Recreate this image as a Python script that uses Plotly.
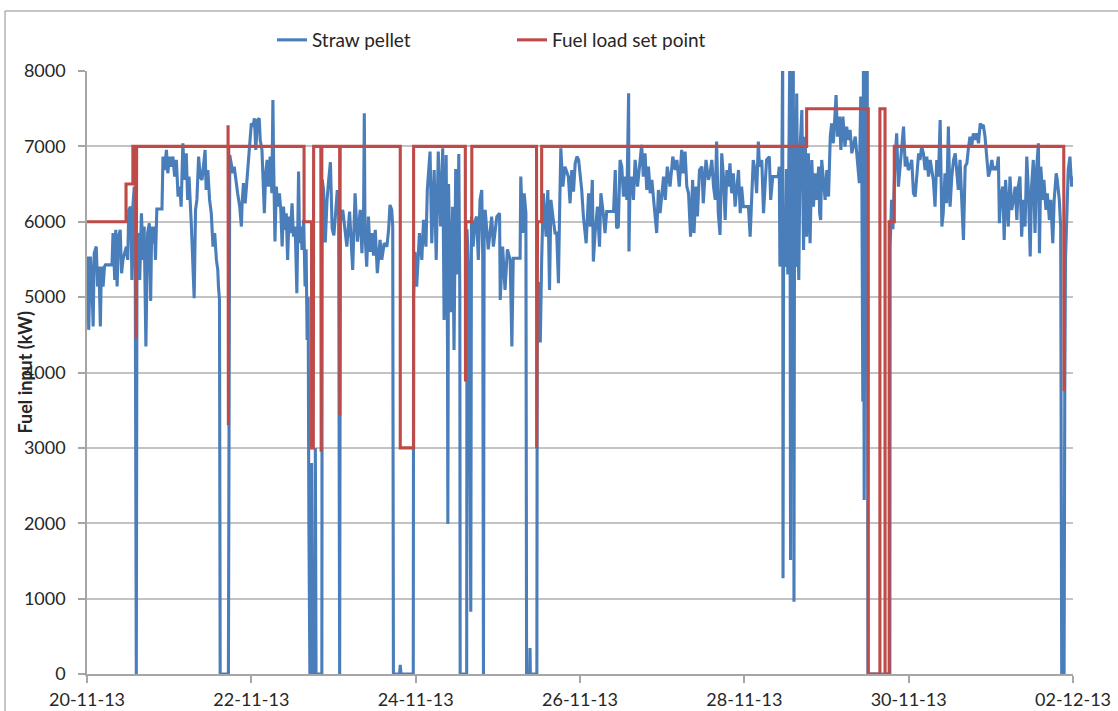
import pandas as pd
import plotly.graph_objects as go

# ---- data (hours after 20-11-13 00:00, values in kW) ----
straw_hours = [
    0.0, 0.2, 0.5, 1.0, 1.5, 1.8, 2.1, 2.7, 3.1, 3.5, 3.9, 4.2, 4.7, 5.1, 5.4, 7.3, 7.6, 8.1, 8.4, 8.8,
    9.2, 9.7, 10.1, 10.5, 11.0, 11.5, 11.9, 12.2, 12.7, 12.9, 13.1, 13.4, 13.8, 14.1, 14.4, 14.6, 15.1, 15.4, 15.9, 16.4,
    16.7, 17.2, 17.7, 18.2, 18.6, 18.9, 19.2, 19.7, 20.0, 20.4, 21.9, 22.2, 22.6, 23.2, 23.6, 24.1, 24.5, 25.1, 25.6, 26.1,
    26.6, 27.1, 27.5, 28.0, 28.5, 29.0, 29.4, 29.8, 30.5, 30.9, 31.3, 31.7, 32.1, 32.6, 33.1, 33.6, 34.1, 34.5, 34.8, 35.3,
    35.8, 36.3, 36.8, 37.3, 37.8, 38.2, 38.4, 38.7, 38.9, 41.3, 41.7, 42.0, 42.6, 43.0, 43.6, 44.0, 44.6, 45.1, 45.3, 45.7,
    46.2, 46.7, 47.2, 47.7, 48.0, 48.5, 48.9, 49.3, 49.8, 50.3, 50.6, 51.1, 51.4, 51.8, 52.2, 52.6, 53.0, 53.5, 54.0, 54.3,
    54.5, 54.9, 55.3, 55.7, 56.2, 56.6, 57.0, 57.4, 57.8, 58.2, 58.6, 59.0, 59.4, 59.9, 60.3, 60.8, 61.3, 61.8, 62.1, 62.5,
    62.8, 63.3, 63.7, 64.0, 64.3, 64.6, 64.8, 65.1, 65.6, 65.8, 66.5, 66.7, 66.9, 68.6, 68.7, 69.1, 69.6, 70.1, 70.6, 71.1,
    71.6, 72.1, 72.6, 73.1, 73.5, 73.8, 74.0, 74.7, 75.9, 76.7, 77.6, 78.3, 79.0, 79.8, 80.3, 80.8, 81.0, 81.2, 81.7, 82.2,
    82.7, 83.2, 83.7, 84.2, 84.8, 85.6, 86.1, 86.8, 87.6, 88.1, 88.5, 89.0, 89.3, 89.5, 91.3, 91.5, 91.7, 95.3, 95.4, 95.8,
    96.3, 97.1, 97.8, 98.3, 99.0, 99.4, 100.2, 100.7, 101.4, 102.0, 102.6, 103.3, 103.9, 104.3, 104.9, 105.3, 105.4, 105.6, 106.3, 106.8,
    107.2, 107.7, 108.2, 108.6, 108.9, 109.0, 110.9, 111.0, 111.5, 112.1, 112.3, 112.8, 113.3, 113.8, 114.3, 114.8, 115.3, 115.6, 115.8, 116.0,
    116.3, 117.2, 118.2, 118.7, 119.7, 120.5, 120.7, 121.4, 122.1, 122.8, 123.6, 124.1, 124.5, 126.5, 126.7, 127.3, 127.7, 128.2, 128.4, 129.3,
    129.4, 129.5, 131.4, 131.5, 132.0, 132.4, 132.8, 133.3, 134.1, 134.6, 135.1, 135.5, 136.2, 136.7, 137.2, 137.7, 138.0, 138.4, 139.0, 139.6,
    140.6, 141.1, 141.6, 142.1, 142.6, 143.1, 143.6, 144.0, 144.5, 145.0, 145.8, 146.5, 147.0, 147.6, 147.9, 148.4, 149.1, 149.7, 150.1, 150.9,
    151.3, 151.8, 153.8, 154.3, 154.7, 155.2, 155.7, 156.2, 156.7, 157.2, 157.7, 158.2, 158.3, 158.6, 159.1, 159.6, 160.1, 160.8, 161.6, 162.0,
    162.5, 163.0, 163.5, 164.0, 164.5, 165.0, 165.6, 166.4, 166.9, 167.4, 168.4, 168.9, 169.5, 170.3, 171.1, 171.8, 172.3, 173.0, 173.7, 174.2,
    174.7, 175.2, 175.7, 176.3, 176.9, 177.3, 177.9, 178.3, 178.9, 179.6, 180.0, 180.8, 181.5, 182.0, 182.5, 183.0, 183.5, 183.9, 184.4, 184.9,
    185.4, 185.9, 186.4, 186.9, 187.3, 187.8, 188.3, 188.8, 189.3, 189.8, 190.3, 190.8, 191.2, 191.7, 193.2, 193.7, 194.2, 194.6, 195.1, 195.6,
    196.1, 196.4, 197.1, 197.6, 198.1, 198.5, 199.3, 199.7, 200.3, 201.9, 202.2, 202.4, 202.9, 203.2, 203.3, 203.5, 203.9, 204.3, 204.7, 205.0,
    205.3, 205.5, 205.7, 206.0, 206.3, 206.5, 206.7, 207.0, 207.3, 207.6, 207.9, 208.3, 208.8, 209.3, 209.8, 210.2, 210.7, 211.2, 211.7, 212.2,
    212.7, 213.2, 213.7, 214.0, 214.3, 214.6, 215.1, 215.6, 216.1, 216.6, 217.1, 217.5, 218.0, 218.5, 218.8, 219.2, 219.8, 220.2, 220.8, 221.4,
    221.9, 222.4, 222.9, 223.4, 223.9, 224.4, 225.0, 225.6, 226.0, 226.3, 226.6, 226.8, 227.0, 227.3, 227.6, 227.9, 228.1, 234.5, 234.6, 235.0,
    235.4, 236.0, 236.5, 237.0, 237.5, 238.0, 238.5, 239.0, 239.4, 239.9, 240.4, 240.9, 241.4, 241.9, 242.4, 242.9, 243.3, 243.8, 244.3, 244.8,
    245.3, 245.8, 246.3, 246.7, 247.2, 247.7, 248.2, 248.7, 249.2, 249.7, 250.1, 250.6, 251.1, 251.6, 252.1, 252.6, 253.1, 253.6, 254.0, 254.5,
    255.0, 255.5, 256.0, 256.5, 257.0, 257.4, 257.9, 258.4, 258.9, 259.4, 259.9, 260.4, 260.9, 261.3, 261.8, 262.3, 262.8, 263.3, 263.8, 264.3,
    264.7, 265.2, 265.7, 266.2, 266.5, 266.9, 267.5, 267.9, 268.3, 268.6, 269.1, 269.6, 270.1, 270.6, 271.1, 271.6, 272.0, 272.5, 273.0, 273.5,
    274.0, 274.5, 275.0, 275.5, 275.9, 276.4, 276.9, 277.4, 277.9, 278.2, 278.6, 279.2, 279.5, 280.1, 280.5, 281.1, 281.5, 282.1, 282.5, 283.1,
    283.4, 284.0, 284.4, 284.7, 285.4, 285.6, 285.8, 286.1, 286.6, 287.1, 287.6, 288.0,
]
straw_kw = [
    5450, 5538, 4566, 5538, 5096, 4610, 5582, 5671, 5140, 5405, 4610, 5405, 5140, 5405, 5428, 5428, 5850, 5229, 5892, 5140,
    5803, 5892, 5317, 5494, 5582, 5671, 5494, 6157, 6201, 5936, 5229, 6201, 6466, 5300, 0, 5700, 5850, 5229, 6113, 5494,
    5936, 4345, 5850, 5980, 4950, 5936, 5715, 5936, 5494, 6170, 6170, 6864, 6687, 6953, 6643, 6864, 6731, 6864, 6599, 6820,
    6334, 6466, 6201, 7041, 6555, 6908, 6290, 6599, 5936, 5494, 4986, 6157, 6290, 6864, 6599, 6555, 6820, 6953, 6422, 6687,
    6290, 6113, 5671, 5850, 5494, 5361, 5140, 4963, 0, 0, 6886, 6820, 6643, 6731, 6466, 6378, 6201, 5936, 6245, 6511,
    6245, 6555, 6776, 7041, 7306, 7262, 7372, 6953, 7350, 7372, 7085, 6953, 6643, 6113, 6643, 6820, 6466, 6864, 6378, 7615,
    6820, 5737, 6466, 6201, 6378, 6157, 5671, 6201, 5892, 6113, 5494, 6069, 5850, 6245, 5803, 5936, 5052, 6665, 5715, 5936,
    5627, 6024, 5140, 5634, 4430, 5000, 2070, 0, 2800, 0, 0, 3000, 0, 0, 6560, 6420, 5727, 6282, 6560, 6790,
    5912, 5820, 6100, 6420, 6100, 0, 6000, 6157, 5670, 6135, 5360, 6378, 5737, 6157, 5582, 6200, 7439, 5850, 5405, 6069,
    5600, 5850, 5550, 5892, 5317, 5760, 5494, 5715, 5670, 5900, 6223, 6157, 5936, 0, 0, 120, 0, 0, 5000, 5600,
    5140, 5850, 5494, 6024, 5670, 6422, 6930, 5715, 6687, 5494, 6930, 5936, 6975, 4698, 6886, 4344, 1990, 6500, 4800, 6200,
    4300, 6700, 5300, 6900, 5000, 0, 0, 5900, 5300, 827, 6069, 5670, 6000, 6069, 5494, 6290, 6422, 5494, 0, 5800,
    6157, 5633, 6069, 5670, 6069, 6113, 4963, 5670, 5096, 5633, 5494, 4345, 5516, 5516, 6599, 5850, 6378, 6113, 0, 0,
    345, 0, 0, 4345, 5200, 4400, 5494, 6378, 5803, 6422, 5096, 6290, 6024, 5850, 5850, 5184, 6024, 6975, 6466, 6731,
    6599, 6245, 6687, 6400, 6776, 6865, 6820, 6643, 6422, 6069, 5715, 6378, 5936, 6555, 5472, 5850, 6201, 5670, 6378, 6069,
    5850, 6135, 6135, 6687, 5914, 5936, 6820, 6731, 6334, 6599, 6290, 7704, 5604, 6466, 6599, 6290, 6820, 6466, 6908, 7019,
    6599, 6908, 6422, 6731, 6378, 6555, 6245, 5850, 6422, 6113, 6599, 6290, 6731, 6466, 6864, 6687, 6820, 6466, 6953, 6643,
    6930, 6466, 6378, 5803, 6555, 5850, 6466, 6069, 6687, 6731, 6245, 6820, 6555, 6643, 6820, 6466, 6290, 7063, 6113, 5825,
    6908, 6599, 6024, 6687, 6466, 6776, 6378, 6643, 6201, 6466, 6687, 6113, 6466, 6201, 6201, 5803, 6378, 6820, 6687, 6378,
    7063, 6731, 6820, 6113, 6511, 6820, 6864, 6290, 6599, 6599, 6731, 5405, 6290, 8300, 1270, 6200, 5400, 6700, 5300, 6900,
    8300, 1513, 8300, 4000, 8300, 960, 7500, 5400, 7700, 6100, 5229, 7000, 7483, 5627, 7129, 5803, 6908, 5715, 6820, 6201,
    6643, 6290, 6731, 6113, 6024, 6820, 6599, 6290, 6687, 6334, 7129, 7306, 7041, 7439, 7682, 7129, 7394, 6953, 7394, 6997,
    7262, 7085, 7218, 6908, 7041, 7129, 6820, 6511, 7660, 7000, 3614, 8300, 2310, 8300, 7200, 8300, 0, 0, 5670, 6290,
    5900, 6820, 7173, 6466, 6731, 7041, 7262, 6731, 6864, 6687, 6731, 6820, 6378, 6334, 6599, 6908, 6820, 6997, 6908, 6687,
    6864, 6599, 6820, 6687, 6555, 6201, 6820, 6599, 7350, 5936, 6113, 6643, 6245, 7262, 6201, 6599, 6820, 6908, 6687, 6422,
    6820, 6245, 5759, 6731, 6776, 6953, 7129, 6997, 7173, 7085, 7173, 7041, 7306, 7262, 7284, 7129, 6820, 6599, 6687, 6820,
    6687, 6731, 6687, 6864, 5980, 6334, 6466, 5759, 6555, 6290, 5936, 6599, 6157, 6290, 6466, 6024, 6466, 6599, 5803, 6290,
    5936, 6864, 6378, 5538, 6466, 6820, 5850, 6731, 7041, 5582, 6731, 6290, 6555, 6157, 6378, 6024, 6290, 5715, 6290, 6643,
    6555, 6290, 5936, 0, 0, 3750, 5500, 5936, 6687, 6864, 6466, 6599,
]

setpoint_hours = [
    0.0, 11.4, 11.4, 13.4, 13.4, 14.2, 14.35, 14.5, 41.2, 41.2, 41.3, 41.4, 63.4, 63.4, 65.6, 65.6, 66.1, 66.2,
    68.3, 68.4, 68.6, 73.8, 73.85, 73.95, 91.5, 91.5, 95.4, 95.4, 110.5, 110.55, 110.7, 112.4, 112.4,
    131.3, 131.35, 131.6, 132.8, 132.8, 210.2, 210.2, 228.2, 228.2, 231.6, 231.6, 233.1, 233.1, 234.3, 234.3,
    235.8, 235.8, 285.3, 285.4,
]
setpoint_kw = [
    6000, 6000, 6500, 6500, 7000, 7000, 4450, 7000, 7000, 7280, 3300, 7000, 7000, 6000, 6000, 3000, 3000, 7000,
    7000, 2950, 7000, 7000, 3430, 7000, 7000, 3000, 3000, 7000, 7000, 3880, 6000, 6000, 7000,
    7000, 3000, 6000, 6000, 7000, 7000, 7500, 7500, 0, 0, 7500, 7500, 0, 0, 6000,
    6000, 7000, 7000, 3750,
]

tick_dates = ["2013-11-20", "2013-11-22", "2013-11-24", "2013-11-26", "2013-11-28", "2013-11-30", "2013-12-02"]
y_ticks = [0, 1000, 2000, 3000, 4000, 5000, 6000, 7000, 8000]

start = pd.Timestamp("2013-11-20")
straw_x = start + pd.to_timedelta(straw_hours, unit="h")
setpoint_x = start + pd.to_timedelta(setpoint_hours, unit="h")

FONT = "Lato"
TXT = "#262626"

fig = go.Figure()
fig.add_trace(go.Scatter(x=straw_x, y=straw_kw, mode="lines", name="Straw pellet",
                         line=dict(color="#4a7ebb", width=3.1)))
fig.add_trace(go.Scatter(x=setpoint_x, y=setpoint_kw, mode="lines", name="Fuel load set point",
                         line=dict(color="#be4b48", width=3.1)))

fig.update_layout(
    width=1118, height=711,
    margin=dict(l=87, r=45, t=71, b=37, pad=0, autoexpand=False),
    paper_bgcolor="white", plot_bgcolor="white",
    font=dict(family=FONT, size=18, color=TXT),
    showlegend=True,
    legend=dict(orientation="h", x=0.1876, y=1.0514, xanchor="left", yanchor="middle",
                font=dict(family=FONT, size=19, color=TXT), entrywidth=195,
                bgcolor="rgba(0,0,0,0)", itemclick=False),
    xaxis=dict(type="date", range=[tick_dates[0], tick_dates[-1]],
               tickvals=tick_dates, tickformat="%d-%m-%y", automargin=False,
               ticks="outside", ticklen=7, tickcolor="#a6a6a6", tickwidth=1.5,
               showline=True, linecolor="#a6a6a6", linewidth=1.5,
               showgrid=False, zeroline=False, ticklabelstandoff=2,
               tickfont=dict(family=FONT, size=18, color=TXT)),
    yaxis=dict(range=[0, 8000], tickvals=y_ticks, automargin=False,
               ticks="outside", ticklen=7, tickcolor="#a6a6a6", tickwidth=1.5,
               showline=True, linecolor="#a6a6a6", linewidth=1.5,
               showgrid=True, gridcolor="#c3c3c3", gridwidth=1.5, zeroline=False,
               ticklabelstandoff=9,
               tickfont=dict(family=FONT, size=18, color=TXT)),
    shapes=[dict(type="rect", xref="paper", yref="paper",
                 x0=(5 - 87) / 986, x1=1.08, y0=-0.12, y1=(674 - 11) / 603,
                 line=dict(color="#8c8c8c", width=1), fillcolor="rgba(0,0,0,0)", layer="below")],
    annotations=[dict(text="<b>Fuel input (kW)</b>", xref="paper", yref="paper",
                      x=(24 - 87) / 986, y=0.5, xanchor="center", yanchor="middle",
                      textangle=-90, showarrow=False,
                      font=dict(family=FONT, size=18, color=TXT))],
)

fig.write_html("out.html")
